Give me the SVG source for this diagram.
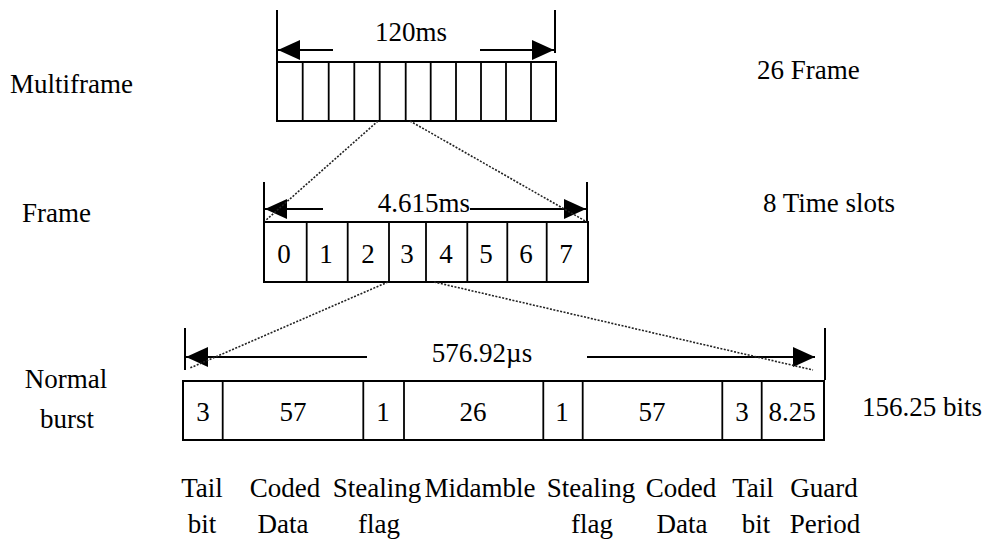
<svg xmlns="http://www.w3.org/2000/svg" width="988" height="543" viewBox="0 0 988 543">
  <defs>
    <marker id="head" viewBox="0 0 22 20" refX="22" refY="10" markerWidth="22" markerHeight="20" markerUnits="userSpaceOnUse" orient="auto-start-reverse">
      <path d="M0,0 L22,10 L0,20 Z" fill="#000"/>
    </marker>
  </defs>
  <style>
    text { font-family: "Liberation Serif", Tinos, "Noto Serif", "DejaVu Serif", "FreeSerif", "Nimbus Roman", "Times New Roman", Times, serif; font-size: 27px; fill: #000; }
    .mid { text-anchor: middle; }
    .box { fill: #fff; stroke: #000; stroke-width: 2; }
    .div { stroke: #000; stroke-width: 1.8; }
    .tick { stroke: #000; stroke-width: 2; }
    .dim { stroke: #000; stroke-width: 2; fill: none; }
    .zoom { stroke: #222; stroke-width: 1.6; stroke-dasharray: 2 1.5; fill: none; }
  </style>
  <rect width="988" height="543" fill="#fff"/>

  <!-- row labels -->
  <g id="labels-left">
    <text x="10" y="93">Multiframe</text>
    <text x="22" y="222">Frame</text>
    <text x="66" y="388" class="mid">Normal</text>
    <text x="67" y="428" class="mid">burst</text>
  </g>
  <g id="labels-right">
    <text x="757" y="79">26 Frame</text>
    <text x="763" y="212">8 Time slots</text>
    <text x="862" y="416">156.25 bits</text>
  </g>

  <!-- multiframe: 11 drawn cells -->
  <g id="multiframe">
    <rect class="box" x="277" y="62" width="279" height="59"/>
    <path class="div" d="M302.7,62V121 M328.7,62V121 M354.3,62V121 M379.7,62V121 M405.7,62V121 M430.7,62V121 M456,62V121 M481,62V121 M506,62V121 M531,62V121"/>
    <path class="tick" d="M277,10V62 M555,10V53"/>
    <path class="dim" d="M333,50H278" marker-end="url(#head)"/>
    <path class="dim" d="M480,50H554" marker-end="url(#head)"/>
    <text x="411" y="41" class="mid">120ms</text>
  </g>

  <!-- frame: 8 time slots -->
  <g id="frame">
    <rect class="box" x="264" y="222" width="324" height="60"/>
    <path class="div" d="M306.7,222V282 M347.7,222V282 M389,222V282 M426,222V282 M467.3,222V282 M507.3,222V282 M546.7,222V282"/>
    <text x="284" y="263" class="mid">0</text>
    <text x="326" y="263" class="mid">1</text>
    <text x="368" y="263" class="mid">2</text>
    <text x="407" y="263" class="mid">3</text>
    <text x="446" y="263" class="mid">4</text>
    <text x="486" y="263" class="mid">5</text>
    <text x="526" y="263" class="mid">6</text>
    <text x="566" y="263" class="mid">7</text>
    <path class="tick" d="M264,182V222 M587,182V222"/>
    <path class="dim" d="M323,209H265" marker-end="url(#head)"/>
    <path class="dim" d="M470,209H586" marker-end="url(#head)"/>
    <text x="424" y="212" class="mid">4.615ms</text>
  </g>

  <!-- normal burst -->
  <g id="burst">
    <rect class="box" x="183" y="381" width="641" height="59"/>
    <path class="div" d="M222.7,381V440 M363.3,381V440 M404,381V440 M543.3,381V440 M582.7,381V440 M722.3,381V440 M761.7,381V440"/>
    <text x="203" y="421" class="mid">3</text>
    <text x="293" y="421" class="mid">57</text>
    <text x="383" y="421" class="mid">1</text>
    <text x="473" y="421" class="mid">26</text>
    <text x="562" y="421" class="mid">1</text>
    <text x="652" y="421" class="mid">57</text>
    <text x="742" y="421" class="mid">3</text>
    <text x="792" y="421" class="mid">8.25</text>
    <path class="tick" d="M185,328V370 M825,328V380"/>
    <path class="dim" d="M367,357H186" marker-end="url(#head)"/>
    <path class="dim" d="M587,357H815" marker-end="url(#head)"/>
    <text x="482" y="362" class="mid">576.92µs</text>
  </g>

  <!-- field names under the burst -->
  <g id="field-labels">
    <text x="202" y="497" class="mid">Tail</text>
    <text x="285" y="497" class="mid">Coded</text>
    <text x="377" y="497" class="mid">Stealing</text>
    <text x="480" y="497" class="mid">Midamble</text>
    <text x="591" y="497" class="mid">Stealing</text>
    <text x="681" y="497" class="mid">Coded</text>
    <text x="753" y="497" class="mid">Tail</text>
    <text x="824" y="497" class="mid">Guard</text>
    <text x="202" y="533" class="mid">bit</text>
    <text x="283" y="533" class="mid">Data</text>
    <text x="379" y="533" class="mid">flag</text>
    <text x="592" y="533" class="mid">flag</text>
    <text x="682" y="533" class="mid">Data</text>
    <text x="756" y="533" class="mid">bit</text>
    <text x="825" y="533" class="mid">Period</text>
  </g>

  <!-- dotted expansion lines -->
  <g id="connectors">
    <path class="zoom" d="M378,121L265,221"/>
    <path class="zoom" d="M410,121L587,222"/>
    <path class="zoom" d="M388,282L190,368"/>
    <path class="zoom" d="M434,282L813,370"/>
  </g>
</svg>
